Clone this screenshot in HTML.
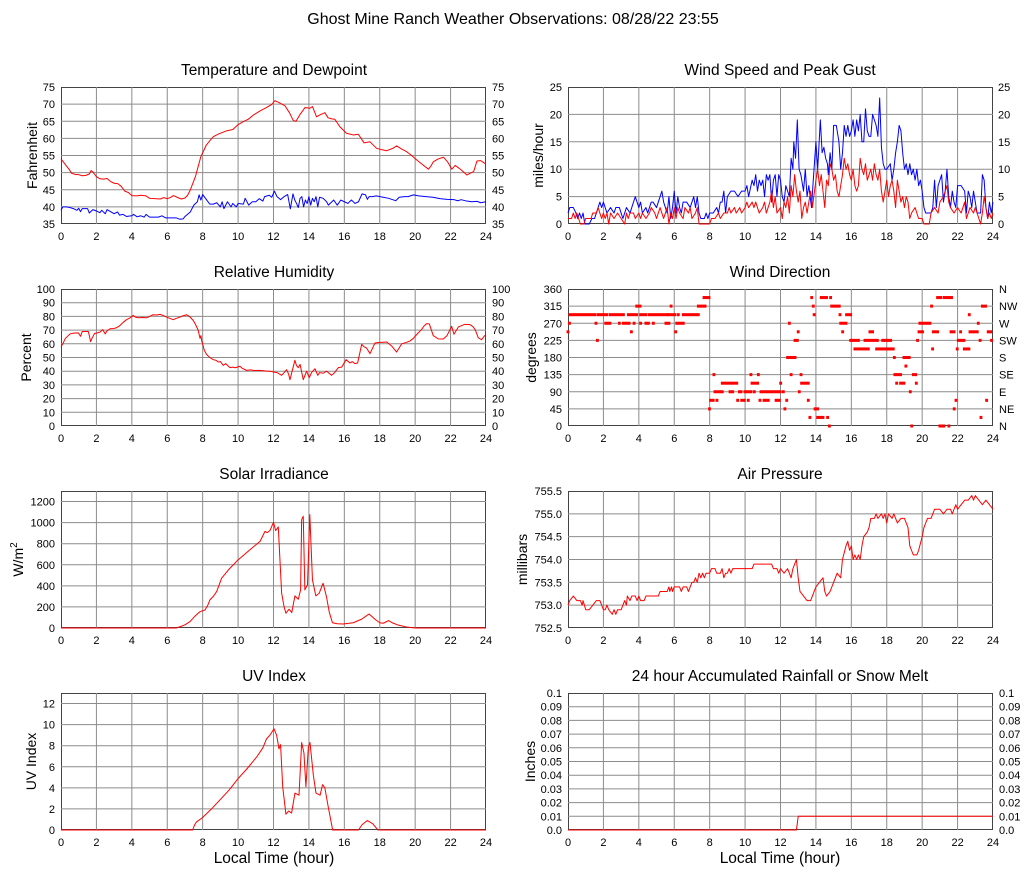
<!DOCTYPE html>
<html><head><meta charset="utf-8"><style>
html,body{margin:0;padding:0;background:#fff;}
svg{display:block;font-family:"Liberation Sans",Arial,sans-serif;}
.t{font-size:11px;fill:#000;}
.ttl{font-size:15.5px;fill:#000;text-anchor:middle;}
.al{font-size:14px;fill:#000;text-anchor:middle;}
.xl{font-size:15.5px;fill:#000;text-anchor:middle;}
.g{stroke:#8c8c8c;stroke-width:1;fill:none;}
.fr{stroke:#444;stroke-width:1;fill:none;}
.r{stroke:#ff0000;stroke-width:1;fill:none;stroke-linejoin:round;}
.b{stroke:#0000ff;stroke-width:1;fill:none;stroke-linejoin:round;}
.e{text-anchor:end;}
.m{text-anchor:middle;}
</style></head><body>
<svg width="1027" height="878" viewBox="0 0 1027 878" xmlns="http://www.w3.org/2000/svg">
<rect width="1027" height="878" fill="#fff"/>
<text x="513" y="24" style="font-size:16px;text-anchor:middle">Ghost Mine Ranch Weather Observations: 08/28/22 23:55</text>

<!-- titles -->
<text class="ttl" x="274" y="75">Temperature and Dewpoint</text>
<text class="ttl" x="780" y="75">Wind Speed and Peak Gust</text>
<text class="ttl" x="274" y="277">Relative Humidity</text>
<text class="ttl" x="780" y="277">Wind Direction</text>
<text class="ttl" x="274" y="479">Solar Irradiance</text>
<text class="ttl" x="780" y="479">Air Pressure</text>
<text class="ttl" x="274" y="681">UV Index</text>
<text class="ttl" x="780" y="681">24 hour Accumulated Rainfall or Snow Melt</text>

<!-- axis labels -->
<text class="al" transform="translate(37,155.5) rotate(-90)">Fahrenheit</text>
<text class="al" transform="translate(543,155.5) rotate(-90)">miles/hour</text>
<text class="al" transform="translate(31,357.5) rotate(-90)">Percent</text>
<text class="al" transform="translate(536,357.5) rotate(-90)">degrees</text>
<text class="al" transform="translate(23,559.5) rotate(-90)">W/m<tspan dy="-6" style="font-size:10px">2</tspan></text>
<text class="al" transform="translate(527,559.5) rotate(-90)">millibars</text>
<text class="al" transform="translate(36,761.5) rotate(-90)">UV Index</text>
<text class="al" transform="translate(535,761.5) rotate(-90)">Inches</text>
<text class="xl" x="274" y="863">Local Time (hour)</text>
<text class="xl" x="780" y="863">Local Time (hour)</text>

<!-- frames first -->
<rect class="fr" x="61.5" y="87.5" width="424" height="136"/>
<rect class="fr" x="568.5" y="87.5" width="424" height="136"/>
<rect class="fr" x="61.5" y="289.5" width="424" height="136"/>
<rect class="fr" x="568.5" y="289.5" width="424" height="136"/>
<rect class="fr" x="61.5" y="491.5" width="424" height="136"/>
<rect class="fr" x="568.5" y="491.5" width="424" height="136"/>
<rect class="fr" x="61.5" y="693.5" width="424" height="136"/>
<rect class="fr" x="568.5" y="693.5" width="424" height="136"/>

<!-- ================= P1 Temperature ================= -->
<svg x="61" y="87" width="425" height="137" viewBox="0 -75 24 40" preserveAspectRatio="none" overflow="visible">
<path class="g" vector-effect="non-scaling-stroke" d="M2 -75V-35M4 -75V-35M6 -75V-35M8 -75V-35M10 -75V-35M12 -75V-35M14 -75V-35M16 -75V-35M18 -75V-35M20 -75V-35M22 -75V-35M0 -70H24M0 -65H24M0 -60H24M0 -55H24M0 -50H24M0 -45H24M0 -40H24"/>
<polyline class="b" vector-effect="non-scaling-stroke" points="0,-39 0.1,-40 0.3,-40 0.5,-39.8 0.7,-39.5 0.9,-39 1,-39.6 1.1,-38.6 1.2,-39.5 1.5,-39.5 1.6,-38.2 1.8,-39.2 2,-38.8 2.2,-38.3 2.3,-39 2.5,-38 2.6,-39.2 2.8,-38.6 3,-38 3.2,-38.5 3.3,-37.6 3.5,-37.8 3.7,-37.2 4,-37.4 4.1,-37.8 4.3,-37.1 4.5,-37.4 4.7,-37 4.8,-37.8 5,-37 5.5,-37 5.7,-37.4 5.9,-36.8 6.2,-36.8 6.5,-36.8 6.7,-36.4 6.9,-36.5 7,-37.2 7.3,-38.5 7.5,-40.5 7.7,-41.5 7.8,-43.5 7.9,-42 8,-43.6 8.2,-42.2 8.4,-40.8 8.6,-40.8 8.8,-41.2 9,-40 9.1,-41.5 9.2,-39.5 9.4,-41.5 9.6,-40 9.7,-41 9.9,-40 10,-41 10.3,-40.8 10.4,-42.5 10.6,-40.5 10.8,-41.5 11,-41.5 11.2,-42.4 11.4,-41.7 11.5,-43 11.76,-43.4 11.9,-42.8 12.05,-44.6 12.2,-43 12.4,-42.1 12.6,-43 12.8,-43.6 12.95,-39.4 13.1,-43.8 13.2,-42 13.3,-41 13.4,-39.8 13.5,-42.5 13.6,-43 13.7,-40 13.8,-42 13.9,-41 14,-43 14.1,-40.5 14.2,-42.5 14.3,-41.5 14.4,-43 14.5,-40 14.6,-42.8 14.8,-42.5 15,-41.5 15.1,-40.5 15.3,-41.5 15.4,-42 15.6,-40.5 15.8,-42 16,-41.5 16.2,-41 16.4,-42 16.6,-41 16.8,-41.5 17,-43.8 17.2,-43.5 17.3,-42.2 17.4,-43 17.6,-43 17.8,-43.2 18.2,-42.8 18.5,-42.5 18.9,-41.8 19.1,-42.8 19.4,-43 19.6,-43 19.9,-43.5 20.2,-43.2 20.6,-43 21,-42.8 21.4,-42.4 21.8,-42.2 22.2,-42.1 22.4,-41.8 22.6,-42.1 22.9,-41.7 23.2,-41.5 23.5,-41.6 23.7,-41.2 24,-41.5"/>
<polyline class="r" vector-effect="non-scaling-stroke" points="0,-54 0.15,-53 0.3,-52 0.45,-51 0.6,-49.8 0.8,-49.5 1,-49.4 1.2,-49.1 1.4,-49.2 1.6,-49.6 1.7,-50.6 1.8,-50.2 2,-48.8 2.2,-48.2 2.4,-48.1 2.6,-48.3 2.8,-47.4 3,-46.9 3.2,-46.8 3.4,-46 3.6,-44.6 3.8,-44.2 4,-43.3 4.3,-43.2 4.5,-43.4 4.8,-43.2 5,-42.5 5.3,-42.4 5.6,-42.3 5.8,-42.7 6,-42.4 6.2,-42.8 6.35,-43.3 6.6,-42.7 6.8,-42.3 7,-42.6 7.15,-43.4 7.3,-44.9 7.6,-49 7.9,-54.7 8.2,-58 8.4,-59.3 8.6,-60.5 8.9,-61.3 9.35,-62.2 9.7,-62.6 10,-64 10.3,-64.9 10.58,-65.6 10.86,-66.8 11.24,-68 11.6,-69 11.9,-69.9 12.08,-71 12.3,-70.5 12.65,-69.5 12.9,-67.5 13.12,-65.2 13.27,-65 13.5,-67 13.78,-69 14.06,-68.8 14.2,-69.3 14.43,-66.3 14.6,-66.8 14.9,-67.5 15.08,-66 15.3,-65.7 15.46,-65.6 15.75,-63.4 16.12,-61.5 16.5,-61 16.79,-61.2 17.11,-58.7 17.45,-59 17.82,-57.1 18.1,-56.7 18.39,-56.4 18.7,-57 18.96,-57.8 19.2,-57 19.52,-56.1 19.8,-55 20.09,-53.7 20.4,-52.4 20.75,-51 20.9,-52 21.03,-53.2 21.3,-54 21.6,-54.5 21.85,-53 22.07,-51 22.26,-52.1 22.6,-50.8 22.92,-49.3 23.1,-49.8 23.3,-50.3 23.49,-53.4 23.7,-53.5 23.96,-52.6"/>
</svg>
<g class="t e">
<text x="55" y="91">75</text><text x="55" y="108.1">70</text><text x="55" y="125.3">65</text><text x="55" y="142.4">60</text><text x="55" y="159.5">55</text><text x="55" y="176.6">50</text><text x="55" y="193.8">45</text><text x="55" y="210.9">40</text><text x="55" y="228">35</text>
</g>
<g class="t">
<text x="492" y="91">75</text><text x="492" y="108.1">70</text><text x="492" y="125.3">65</text><text x="492" y="142.4">60</text><text x="492" y="159.5">55</text><text x="492" y="176.6">50</text><text x="492" y="193.8">45</text><text x="492" y="210.9">40</text><text x="492" y="228">35</text>
</g>
<g class="t m">
<text x="61" y="240">0</text><text x="96.4" y="240">2</text><text x="131.8" y="240">4</text><text x="167.25" y="240">6</text><text x="202.7" y="240">8</text><text x="238.1" y="240">10</text><text x="273.5" y="240">12</text><text x="308.9" y="240">14</text><text x="344.3" y="240">16</text><text x="379.75" y="240">18</text><text x="415.2" y="240">20</text><text x="450.6" y="240">22</text><text x="486" y="240">24</text>
</g>

<!-- ================= P2 Wind speed ================= -->
<svg x="568" y="87" width="425" height="137" viewBox="0 -25 24 25" preserveAspectRatio="none" overflow="visible">
<path class="g" vector-effect="non-scaling-stroke" d="M2 -25V0M4 -25V0M6 -25V0M8 -25V0M10 -25V0M12 -25V0M14 -25V0M16 -25V0M18 -25V0M20 -25V0M22 -25V0M0 -20H24M0 -15H24M0 -10H24M0 -5H24"/>
<polyline class="b" vector-effect="non-scaling-stroke" points="0,-2 0.1,-3 0.3,-3 0.45,-2 0.55,-1 0.65,-2 0.75,-1 0.85,-2 0.95,0 1.2,0 1.35,-1 1.5,-1 1.6,-2 1.8,-4 1.9,-3 2,-4 2.1,-3 2.2,-2 2.4,-3 2.6,-2 2.7,-3 2.9,-3 3,-2 3.1,-1 3.2,-2 3.3,-3 3.5,-2 3.6,-3 3.8,-5 3.9,-4 4,-3 4.1,-4 4.2,-2 4.4,-3 4.5,-2 4.7,-4 4.8,-4 5,-3 5.1,-4 5.3,-6 5.4,-4 5.5,-3 5.6,-2 5.7,-5 5.8,-1 5.9,-3 6,-6 6.1,-2 6.2,-5 6.3,-3 6.4,-2 6.5,-4 6.7,-4 6.9,-3 7,-4 7.1,-5 7.2,-3 7.3,-5 7.4,-2 7.5,-1 7.7,-1 7.8,-2 7.9,-1 8,-2 8.2,-2 8.4,-3 8.5,-2 8.6,-4 8.7,-4 8.8,-6 8.9,-2 9,-5 9.2,-6 9.4,-6 9.6,-5 9.8,-6 10,-6 10.1,-7 10.2,-5 10.4,-8 10.5,-7 10.6,-9 10.7,-6 10.8,-8 10.9,-7 11,-8 11.1,-5 11.2,-9 11.3,-8 11.4,-9 11.5,-4 11.6,-8 11.7,-9 11.8,-5 11.9,-9 12,-8 12.1,-5 12.2,-4 12.3,-7 12.5,-5 12.6,-12 12.7,-10 12.75,-15 12.85,-12 12.95,-19 13.05,-10 13.15,-9 13.3,-6 13.4,-10 13.5,-5 13.6,-7 13.75,-3 13.85,-8 14,-15 14.1,-10 14.25,-19 14.35,-13 14.45,-14 14.55,-12 14.65,-11 14.7,-9 14.8,-13 14.9,-10 15,-18 15.15,-18 15.3,-15 15.4,-10 15.5,-13 15.6,-18 15.7,-16 15.8,-18 15.9,-16 16,-17 16.1,-19 16.2,-16 16.3,-19 16.4,-17 16.5,-20 16.6,-15 16.7,-15 16.8,-21 16.9,-17 17,-16 17.1,-16 17.2,-20 17.3,-19 17.4,-18 17.5,-16 17.6,-23 17.7,-14 17.8,-11 17.9,-10 18,-10 18.2,-11 18.3,-8 18.4,-10 18.5,-13 18.6,-15 18.7,-18 18.8,-17 18.9,-13 19,-10 19.1,-11 19.2,-9 19.3,-11 19.4,-9 19.5,-10 19.6,-8 19.7,-10 19.8,-7 19.9,-8 20,-6 20.1,-3 20.2,-2 20.5,-2 20.6,-3 20.7,-8 20.8,-3 20.9,-7 21,-8 21.1,-9 21.2,-4 21.3,-6 21.4,-10 21.5,-5 21.6,-3 21.7,-6 21.8,-4 21.9,-3 22,-7 22.1,-7 22.2,-7 22.4,-6 22.5,-2 22.6,-6 22.7,-5 22.8,-3 22.9,-6 23,-4 23.1,-2 23.3,-2 23.4,-9 23.5,-8 23.6,-3 23.7,-1 23.8,-4 23.9,-2 24,-4"/>
<polyline class="r" vector-effect="non-scaling-stroke" points="0,-1 0.2,-1 0.3,-2 0.4,-1 0.5,-2 0.6,-1 0.7,0 0.9,0 1,-1 1.3,-1 1.4,-2 1.6,-2 1.7,-3 1.8,-2 1.9,-1 2,-2 2.1,-1 2.2,-2 2.3,0 2.4,-2 2.6,-1 2.8,-2 3,-1 3.2,0 3.3,-2 3.4,-1 3.5,-2 3.7,-2 3.8,-1 4,-2 4.1,-1 4.2,-2 4.4,-1 4.6,-2 4.7,-3 4.9,-2 5,-1 5.2,-3 5.3,-2 5.4,-1 5.6,-3 5.7,0 5.8,-2 5.9,-1 6,-3 6.1,-1 6.2,-3 6.3,-2 6.5,-1 6.6,-3 6.8,-2 6.9,-3 7,-1 7.2,-2 7.3,-3 7.4,0 7.6,0 8,0 8.1,-1 8.3,-1 8.5,-2 8.6,-1 8.8,-2 9,-2 9.1,-3 9.2,-2 9.4,-3 9.5,-2 9.7,-3 9.8,-2 10,-3 10.1,-4 10.2,-3 10.4,-4 10.5,-3 10.6,-4 10.8,-2 11,-3 11.1,-4 11.2,-2 11.4,-4 11.5,-6 11.6,-3 11.7,-5 11.8,-2 12,-3 12.1,-1 12.2,-4 12.3,-3 12.4,-5 12.5,-2 12.6,-7 12.7,-5 12.8,-9 12.9,-6 13,-4 13.1,-6 13.2,-1 13.3,-3 13.4,-4 13.5,-2 13.6,-4 13.7,-6 13.8,-3 14,-8 14.1,-10 14.2,-7 14.3,-9 14.4,-6 14.5,-3 14.6,-8 14.7,-7 14.8,-11 14.9,-10 15,-8 15.1,-9 15.2,-6 15.3,-5 15.4,-7 15.5,-9 15.6,-12 15.7,-10 15.8,-11 15.9,-9 16,-8 16.1,-10 16.2,-7 16.3,-6 16.4,-7 16.5,-12 16.6,-10 16.7,-9 16.8,-11 16.9,-8 17,-9 17.1,-10 17.2,-8 17.3,-11 17.4,-9 17.5,-8 17.6,-10 17.7,-6 17.8,-4 17.9,-6 18,-8 18.1,-5 18.2,-7 18.3,-8 18.4,-6 18.5,-3 18.6,-8 18.7,-6 18.8,-4 18.9,-5 19,-3 19.1,-5 19.2,-4 19.3,-1 19.4,-2 19.6,-3 19.8,-1 20,-1 20.1,0 20.4,0 20.5,-2 20.7,-3 20.9,-2 21,-4 21.2,-5 21.4,-7 21.5,-4 21.6,-3 21.8,-2 22,-3 22.2,-2 22.4,-4 22.5,-1 22.7,-3 22.9,-2 23,-3 23.2,-1 23.3,0 23.4,-2 23.5,-5 23.6,-3 23.7,-1 23.8,-2 23.9,-1 24,-2"/>
</svg>
<g class="t e">
<text x="562" y="91">25</text><text x="562" y="118.4">20</text><text x="562" y="145.8">15</text><text x="562" y="173.2">10</text><text x="562" y="200.6">5</text><text x="562" y="228">0</text>
</g>
<g class="t">
<text x="998" y="91">25</text><text x="998" y="118.4">20</text><text x="998" y="145.8">15</text><text x="998" y="173.2">10</text><text x="998" y="200.6">5</text><text x="998" y="228">0</text>
</g>
<g class="t m">
<text x="568" y="240">0</text><text x="603.4" y="240">2</text><text x="638.8" y="240">4</text><text x="674.25" y="240">6</text><text x="709.7" y="240">8</text><text x="745.1" y="240">10</text><text x="780.5" y="240">12</text><text x="815.9" y="240">14</text><text x="851.3" y="240">16</text><text x="886.75" y="240">18</text><text x="922.2" y="240">20</text><text x="957.6" y="240">22</text><text x="993" y="240">24</text>
</g>

<!-- ================= P3 Humidity ================= -->
<svg x="61" y="289" width="425" height="137" viewBox="0 -100 24 100" preserveAspectRatio="none" overflow="visible">
<path class="g" vector-effect="non-scaling-stroke" d="M2 -100V0M4 -100V0M6 -100V0M8 -100V0M10 -100V0M12 -100V0M14 -100V0M16 -100V0M18 -100V0M20 -100V0M22 -100V0M0 -90H24M0 -80H24M0 -70H24M0 -60H24M0 -50H24M0 -40H24M0 -30H24M0 -20H24M0 -10H24"/>
<polyline class="r" vector-effect="non-scaling-stroke" points="0,-57.9 0.1,-60 0.25,-64 0.51,-67.2 0.7,-67.8 0.98,-68 1.1,-65.5 1.2,-69 1.54,-69 1.6,-66 1.67,-61.6 1.75,-64 1.9,-67.6 2.05,-68 2.2,-68.5 2.35,-70.4 2.5,-67.2 2.6,-69.5 2.77,-71 3,-71.2 3.14,-71.8 3.3,-73 3.5,-75.5 3.7,-77.6 3.9,-79 4.08,-80.7 4.2,-79.5 4.37,-79 4.6,-79.2 4.84,-79 5,-80 5.2,-81.2 5.4,-81 5.59,-81.5 5.8,-80.5 5.96,-79.5 6.15,-78.5 6.34,-77.6 6.5,-78.5 6.72,-79.5 6.9,-80.5 7.1,-81.2 7.25,-80 7.47,-77 7.6,-74 7.75,-69.8 7.85,-64 7.9,-66 7.94,-62.5 8.1,-55 8.22,-52.3 8.4,-50 8.6,-48.4 8.75,-48 8.88,-46.7 9,-47 9.16,-44.3 9.3,-45.5 9.54,-42.6 9.7,-43 9.85,-42.5 10.1,-43.6 10.25,-42 10.48,-40.6 10.7,-41 10.9,-40.5 11.23,-40.6 11.5,-40.2 11.8,-40 11.99,-39.4 12.2,-39 12.46,-37 12.6,-39 12.74,-41.1 12.85,-38 12.93,-33.8 13.05,-40 13.21,-48 13.3,-44 13.4,-42.6 13.5,-45 13.68,-33.8 13.87,-40 14.02,-35.3 14.15,-39 14.34,-41.8 14.5,-37 14.6,-39 14.81,-38.5 15,-40 15.28,-37 15.45,-39 15.66,-42.6 15.85,-43 16.1,-48.4 16.32,-46 16.45,-47 16.6,-45.5 16.75,-46 16.98,-59.6 17.1,-58 17.25,-57 17.45,-52.8 17.6,-57 17.73,-60.6 18,-61 18.4,-61.3 18.7,-58 18.95,-54 19.1,-57 19.24,-60 19.5,-61 19.7,-62 19.9,-64 20.08,-66.7 20.36,-70.4 20.5,-73 20.65,-74.7 20.8,-74.5 21.02,-66 21.3,-63.6 21.59,-63.5 21.8,-66 22.06,-72.8 22.19,-67 22.44,-72.3 22.8,-74.2 23.1,-74 23.28,-72.3 23.4,-70 23.56,-64.5 23.75,-63 23.94,-66.2"/>
</svg>
<g class="t e">
<text x="55" y="293">100</text><text x="55" y="306.7">90</text><text x="55" y="320.4">80</text><text x="55" y="334.1">70</text><text x="55" y="347.8">60</text><text x="55" y="361.5">50</text><text x="55" y="375.2">40</text><text x="55" y="388.9">30</text><text x="55" y="402.6">20</text><text x="55" y="416.3">10</text><text x="55" y="430">0</text>
</g>
<g class="t">
<text x="492" y="293">100</text><text x="492" y="306.7">90</text><text x="492" y="320.4">80</text><text x="492" y="334.1">70</text><text x="492" y="347.8">60</text><text x="492" y="361.5">50</text><text x="492" y="375.2">40</text><text x="492" y="388.9">30</text><text x="492" y="402.6">20</text><text x="492" y="416.3">10</text><text x="492" y="430">0</text>
</g>
<g class="t m">
<text x="61" y="442">0</text><text x="96.4" y="442">2</text><text x="131.8" y="442">4</text><text x="167.25" y="442">6</text><text x="202.7" y="442">8</text><text x="238.1" y="442">10</text><text x="273.5" y="442">12</text><text x="308.9" y="442">14</text><text x="344.3" y="442">16</text><text x="379.75" y="442">18</text><text x="415.2" y="442">20</text><text x="450.6" y="442">22</text><text x="486" y="442">24</text>
</g>

<!-- ================= P4 Wind direction ================= -->
<svg x="568" y="289" width="425" height="137" viewBox="0 -360 24 360" preserveAspectRatio="none" overflow="visible">
<path class="g" vector-effect="non-scaling-stroke" d="M2 -360V0M4 -360V0M6 -360V0M8 -360V0M10 -360V0M12 -360V0M14 -360V0M16 -360V0M18 -360V0M20 -360V0M22 -360V0M0 -315H24M0 -270H24M0 -225H24M0 -180H24M0 -135H24M0 -90H24M0 -45H24"/>
<g fill="#ff0000">
<rect x="-0.08" y="-251.5" width="0.16" height="8"/><rect x="0" y="-274" width="0.16" height="8"/><rect x="0.03" y="-296.5" width="1.58" height="8"/><rect x="1.5" y="-274" width="0.16" height="8"/><rect x="1.58" y="-229" width="0.16" height="8"/><rect x="1.63" y="-296.5" width="0.63" height="8"/><rect x="2.05" y="-274" width="0.4" height="8"/><rect x="2.29" y="-296.5" width="0.92" height="8"/><rect x="2.82" y="-274" width="0.16" height="8"/><rect x="3.05" y="-274" width="0.48" height="8"/><rect x="3.33" y="-296.5" width="0.63" height="8"/><rect x="3.5" y="-251.5" width="0.16" height="8"/><rect x="3.65" y="-274" width="0.16" height="8"/><rect x="3.8" y="-319" width="0.35" height="8"/><rect x="4.02" y="-274" width="0.16" height="8"/><rect x="4.02" y="-296.5" width="0.46" height="8"/><rect x="4.32" y="-274" width="0.3" height="8"/><rect x="4.51" y="-296.5" width="1.14" height="8"/><rect x="4.74" y="-274" width="0.16" height="8"/><rect x="5.45" y="-274" width="0.33" height="8"/><rect x="5.74" y="-319" width="0.16" height="8"/><rect x="5.59" y="-296.5" width="0.53" height="8"/><rect x="6" y="-251.5" width="0.16" height="8"/><rect x="6.06" y="-274" width="0.53" height="8"/><rect x="6.15" y="-296.5" width="0.16" height="8"/><rect x="6.43" y="-296.5" width="1.01" height="8"/><rect x="7.28" y="-319" width="0.54" height="8"/><rect x="7.6" y="-341.5" width="0.44" height="8"/>
<rect x="7.91" y="-49" width="0.16" height="8"/><rect x="7.97" y="-71.5" width="0.31" height="8"/><rect x="8.16" y="-139" width="0.16" height="8"/><rect x="8.22" y="-94" width="0.57" height="8"/><rect x="8.33" y="-71.5" width="0.16" height="8"/><rect x="8.63" y="-116.5" width="0.6" height="8"/><rect x="9.07" y="-94" width="0.31" height="8"/><rect x="9.22" y="-116.5" width="0.39" height="8"/><rect x="9.5" y="-71.5" width="0.16" height="8"/><rect x="9.6" y="-94" width="0.25" height="8"/><rect x="9.73" y="-71.5" width="0.31" height="8"/><rect x="9.91" y="-94" width="0.5" height="8"/><rect x="10.1" y="-71.5" width="0.16" height="8"/><rect x="10.25" y="-139" width="0.16" height="8"/><rect x="10.31" y="-116.5" width="0.48" height="8"/><rect x="10.44" y="-94" width="0.16" height="8"/><rect x="10.67" y="-139" width="0.16" height="8"/><rect x="10.76" y="-71.5" width="0.16" height="8"/><rect x="10.82" y="-94" width="1.23" height="8"/><rect x="10.99" y="-71.5" width="0.4" height="8"/><rect x="11.67" y="-71.5" width="0.34" height="8"/><rect x="11.93" y="-116.5" width="0.16" height="8"/><rect x="12.08" y="-94" width="0.16" height="8"/><rect x="12.17" y="-49" width="0.16" height="8"/><rect x="12.27" y="-71.5" width="0.16" height="8"/><rect x="12.32" y="-184" width="0.26" height="8"/><rect x="12.42" y="-274" width="0.16" height="8"/><rect x="12.52" y="-139" width="0.16" height="8"/><rect x="12.55" y="-184" width="0.35" height="8"/><rect x="12.74" y="-229" width="0.29" height="8"/><rect x="12.92" y="-251.5" width="0.16" height="8"/><rect x="12.98" y="-94" width="0.16" height="8"/><rect x="13.08" y="-139" width="0.16" height="8"/><rect x="13.11" y="-116.5" width="0.54" height="8"/><rect x="13.49" y="-71.5" width="0.16" height="8"/><rect x="13.58" y="-26.5" width="0.16" height="8"/><rect x="13.68" y="-341.5" width="0.16" height="8"/><rect x="13.77" y="-319" width="0.16" height="8"/><rect x="13.82" y="-296.5" width="0.16" height="8"/><rect x="13.87" y="-49" width="0.31" height="8"/><rect x="14.02" y="-26.5" width="0.46" height="8"/><rect x="14.58" y="-26.5" width="0.16" height="8"/><rect x="14.22" y="-341.5" width="0.46" height="8"/><rect x="14.75" y="-341.5" width="0.16" height="8"/><rect x="14.68" y="-4" width="0.16" height="8"/>
<rect x="14.81" y="-319" width="0.59" height="8"/><rect x="15.28" y="-296.5" width="0.16" height="8"/><rect x="15.32" y="-274" width="0.46" height="8"/><rect x="15.43" y="-251.5" width="0.16" height="8"/><rect x="15.65" y="-296.5" width="0.39" height="8"/><rect x="15.88" y="-229" width="0.6" height="8"/><rect x="16.12" y="-206.5" width="0.92" height="8"/><rect x="16.69" y="-229" width="0.44" height="8"/><rect x="16.97" y="-251.5" width="0.31" height="8"/><rect x="17.12" y="-229" width="0.43" height="8"/><rect x="17.35" y="-206.5" width="1.1" height="8"/><rect x="17.69" y="-229" width="0.61" height="8"/><rect x="18.35" y="-184" width="0.16" height="8"/><rect x="18.38" y="-139" width="0.48" height="8"/><rect x="18.48" y="-116.5" width="0.16" height="8"/><rect x="18.7" y="-116.5" width="0.35" height="8"/><rect x="18.89" y="-184" width="0.46" height="8"/><rect x="19" y="-161.5" width="0.16" height="8"/><rect x="19.25" y="-94" width="0.16" height="8"/><rect x="19.33" y="-4" width="0.16" height="8"/><rect x="19.42" y="-139" width="0.29" height="8"/><rect x="19.59" y="-116.5" width="0.16" height="8"/><rect x="19.66" y="-229" width="0.16" height="8"/><rect x="19.74" y="-251.5" width="0.36" height="8"/><rect x="19.79" y="-274" width="0.73" height="8"/><rect x="20.45" y="-319" width="0.16" height="8"/><rect x="20.51" y="-206.5" width="0.16" height="8"/><rect x="20.55" y="-251.5" width="0.4" height="8"/><rect x="20.79" y="-341.5" width="0.33" height="8"/><rect x="20.92" y="-4" width="0.39" height="8"/><rect x="21.15" y="-341.5" width="0.59" height="8"/><rect x="21.43" y="-4" width="0.16" height="8"/><rect x="21.55" y="-251.5" width="0.33" height="8"/><rect x="21.73" y="-49" width="0.16" height="8"/><rect x="21.83" y="-71.5" width="0.16" height="8"/><rect x="21.9" y="-206.5" width="0.16" height="8"/><rect x="21.96" y="-229" width="0.48" height="8"/><rect x="22.09" y="-251.5" width="0.16" height="8"/><rect x="22.3" y="-206.5" width="0.42" height="8"/><rect x="22.58" y="-296.5" width="0.16" height="8"/><rect x="22.62" y="-251.5" width="0.57" height="8"/><rect x="23.09" y="-274" width="0.16" height="8"/><rect x="23.19" y="-229" width="0.16" height="8"/><rect x="23.24" y="-26.5" width="0.16" height="8"/><rect x="23.32" y="-319" width="0.34" height="8"/><rect x="23.56" y="-71.5" width="0.16" height="8"/><rect x="23.65" y="-251.5" width="0.3" height="8"/><rect x="23.84" y="-229" width="0.16" height="8"/>
</g>
</svg>
<g class="t e">
<text x="562" y="293">360</text><text x="562" y="310.1">315</text><text x="562" y="327.3">270</text><text x="562" y="344.4">225</text><text x="562" y="361.5">180</text><text x="562" y="378.6">135</text><text x="562" y="395.8">90</text><text x="562" y="412.9">45</text><text x="562" y="430">0</text>
</g>
<g class="t">
<text x="999" y="293">N</text><text x="999" y="310.1">NW</text><text x="999" y="327.3">W</text><text x="999" y="344.4">SW</text><text x="999" y="361.5">S</text><text x="999" y="378.6">SE</text><text x="999" y="395.8">E</text><text x="999" y="412.9">NE</text><text x="999" y="430">N</text>
</g>
<g class="t m">
<text x="568" y="442">0</text><text x="603.4" y="442">2</text><text x="638.8" y="442">4</text><text x="674.25" y="442">6</text><text x="709.7" y="442">8</text><text x="745.1" y="442">10</text><text x="780.5" y="442">12</text><text x="815.9" y="442">14</text><text x="851.3" y="442">16</text><text x="886.75" y="442">18</text><text x="922.2" y="442">20</text><text x="957.6" y="442">22</text><text x="993" y="442">24</text>
</g>

<!-- ================= P5 Solar ================= -->
<svg x="61" y="491" width="425" height="137" viewBox="0 -1300 24 1300" preserveAspectRatio="none" overflow="visible">
<path class="g" vector-effect="non-scaling-stroke" d="M2 -1300V0M4 -1300V0M6 -1300V0M8 -1300V0M10 -1300V0M12 -1300V0M14 -1300V0M16 -1300V0M18 -1300V0M20 -1300V0M22 -1300V0M0 -1200H24M0 -1000H24M0 -800H24M0 -600H24M0 -400H24M0 -200H24"/>
<polyline class="r" vector-effect="non-scaling-stroke" points="0,0 6.5,0 6.72,-12 7,-30 7.28,-60 7.55,-110 7.85,-155 8.13,-171 8.3,-220 8.41,-267 8.6,-300 8.79,-346 9.07,-473 9.5,-560 10.01,-648 10.67,-743 11.24,-822 11.52,-917 11.65,-905 11.8,-925 12,-1003 12.12,-924 12.27,-959 12.46,-330 12.6,-200 12.7,-140 12.88,-178 13.03,-146 13.21,-305 13.4,-273 13.53,-362 13.59,-1029 13.68,-1060 13.77,-362 13.92,-410 14.05,-1076 14.2,-457 14.39,-305 14.58,-330 14.8,-425 14.99,-298 15.15,-150 15.33,-50 15.6,-40 15.93,-38 16.5,-50 16.97,-83 17.2,-110 17.39,-133 17.55,-110 17.73,-83 18,-50 18.2,-45 18.5,-70 18.7,-50 19,-30 19.5,-10 20,0 24,0"/>
</svg>
<g class="t e">
<text x="55" y="505.5">1200</text><text x="55" y="526.6">1000</text><text x="55" y="547.7">800</text><text x="55" y="568.8">600</text><text x="55" y="589.8">400</text><text x="55" y="610.9">200</text><text x="55" y="632">0</text>
</g>
<g class="t m">
<text x="61" y="644">0</text><text x="96.4" y="644">2</text><text x="131.8" y="644">4</text><text x="167.25" y="644">6</text><text x="202.7" y="644">8</text><text x="238.1" y="644">10</text><text x="273.5" y="644">12</text><text x="308.9" y="644">14</text><text x="344.3" y="644">16</text><text x="379.75" y="644">18</text><text x="415.2" y="644">20</text><text x="450.6" y="644">22</text><text x="486" y="644">24</text>
</g>

<!-- ================= P6 Pressure ================= -->
<svg x="568" y="491" width="425" height="137" viewBox="0 -755.5 24 3" preserveAspectRatio="none" overflow="visible">
<path class="g" vector-effect="non-scaling-stroke" d="M2 -755.5V-752.5M4 -755.5V-752.5M6 -755.5V-752.5M8 -755.5V-752.5M10 -755.5V-752.5M12 -755.5V-752.5M14 -755.5V-752.5M16 -755.5V-752.5M18 -755.5V-752.5M20 -755.5V-752.5M22 -755.5V-752.5M0 -755H24M0 -754.5H24M0 -754H24M0 -753.5H24M0 -753H24"/>
<polyline class="r" vector-effect="non-scaling-stroke" points="0,-753 0.1,-753.1 0.3,-753.2 0.5,-753.1 0.7,-753.1 0.8,-753 0.85,-753.1 1,-752.9 1.2,-752.9 1.4,-753 1.6,-753.1 1.8,-753.1 2,-752.9 2.1,-752.9 2.2,-753 2.3,-752.9 2.5,-752.8 2.6,-752.9 2.7,-752.8 2.8,-752.9 3,-752.9 3.1,-753 3.2,-753.1 3.3,-753 3.35,-753.2 3.5,-753.1 3.6,-753.2 3.8,-753.2 3.9,-753.1 4,-753.2 4.1,-753.1 4.3,-753.1 4.4,-753.2 5.1,-753.2 5.2,-753.3 5.6,-753.3 5.7,-753.4 5.75,-753.3 5.85,-753.4 5.9,-753.3 6,-753.4 6.3,-753.4 6.4,-753.3 6.5,-753.4 6.7,-753.4 6.8,-753.3 6.9,-753.4 7,-753.5 7.1,-753.5 7.2,-753.6 7.3,-753.5 7.4,-753.7 7.5,-753.6 7.6,-753.7 7.7,-753.6 7.8,-753.7 8,-753.7 8.1,-753.8 8.3,-753.8 8.4,-753.7 8.6,-753.7 8.7,-753.8 8.8,-753.6 8.9,-753.7 9,-753.7 9.1,-753.8 9.2,-753.7 9.3,-753.8 10,-753.8 10.4,-753.8 10.5,-753.9 11.5,-753.9 11.6,-753.8 11.8,-753.8 11.9,-753.7 12,-753.8 12.2,-753.7 12.4,-753.8 12.5,-753.7 12.6,-753.6 12.7,-753.8 12.9,-754 13,-753.6 13.1,-753.3 13.3,-753.2 13.5,-753.1 13.7,-753.1 13.8,-753.2 13.9,-753.3 14,-753.4 14.2,-753.5 14.4,-753.6 14.5,-753.3 14.6,-753.2 14.8,-753.3 15,-753.5 15.2,-753.7 15.4,-753.6 15.5,-754 15.7,-754.3 15.8,-754.4 15.9,-754.2 16,-754.3 16.1,-754 16.2,-754.1 16.3,-754 16.4,-754.1 16.5,-754 16.6,-754.3 16.7,-754.5 16.9,-754.6 17,-754.7 17.1,-754.9 17.3,-754.9 17.4,-755 17.5,-754.9 17.7,-755 17.8,-754.9 17.9,-755 18,-754.8 18.1,-755 18.3,-754.9 18.4,-755 18.6,-754.8 18.8,-754.9 19,-754.9 19.2,-754.7 19.3,-754.3 19.4,-754.2 19.5,-754.1 19.7,-754.1 19.8,-754.2 20,-754.5 20.1,-754.7 20.3,-754.9 20.5,-754.9 20.7,-755.1 21,-755.1 21.2,-755 21.4,-755.1 21.6,-755.1 21.7,-755 21.9,-755.2 22,-755.1 22.2,-755.2 22.4,-755.3 22.6,-755.3 22.8,-755.4 22.9,-755.3 23,-755.4 23.2,-755.3 23.4,-755.2 23.6,-755.3 23.8,-755.2 24,-755.1"/>
</svg>
<g class="t e">
<text x="562" y="495">755.5</text><text x="562" y="517.8">755.0</text><text x="562" y="540.7">754.5</text><text x="562" y="563.5">754.0</text><text x="562" y="586.3">753.5</text><text x="562" y="609.2">753.0</text><text x="562" y="632">752.5</text>
</g>
<g class="t m">
<text x="568" y="644">0</text><text x="603.4" y="644">2</text><text x="638.8" y="644">4</text><text x="674.25" y="644">6</text><text x="709.7" y="644">8</text><text x="745.1" y="644">10</text><text x="780.5" y="644">12</text><text x="815.9" y="644">14</text><text x="851.3" y="644">16</text><text x="886.75" y="644">18</text><text x="922.2" y="644">20</text><text x="957.6" y="644">22</text><text x="993" y="644">24</text>
</g>

<!-- ================= P7 UV ================= -->
<svg x="61" y="693" width="425" height="137" viewBox="0 -13 24 13" preserveAspectRatio="none" overflow="visible">
<path class="g" vector-effect="non-scaling-stroke" d="M2 -13V0M4 -13V0M6 -13V0M8 -13V0M10 -13V0M12 -13V0M14 -13V0M16 -13V0M18 -13V0M20 -13V0M22 -13V0M0 -12H24M0 -10H24M0 -8H24M0 -6H24M0 -4H24M0 -2H24"/>
<polyline class="r" vector-effect="non-scaling-stroke" points="0,0 7.43,0 7.55,-0.5 7.66,-0.78 7.85,-1 8.04,-1.26 8.5,-2 9,-2.9 9.5,-3.8 10.01,-4.9 10.5,-5.8 11.05,-6.93 11.4,-7.8 11.61,-8.66 11.8,-9 12.03,-9.6 12.18,-8.97 12.31,-7.7 12.4,-8.1 12.52,-4.1 12.7,-1.5 12.85,-1.8 13.02,-1.6 13.21,-3.5 13.44,-3.3 13.59,-8.3 13.72,-7.3 13.83,-4.1 13.97,-7.9 14.06,-8.3 14.25,-5.2 14.4,-3.5 14.63,-3.3 14.77,-4.3 14.9,-4 15.09,-2.2 15.34,0 16.8,0 17,-0.5 17.3,-0.9 17.6,-0.6 17.9,0 24,0"/>
</svg>
<g class="t e">
<text x="55" y="707.5">12</text><text x="55" y="728.6">10</text><text x="55" y="749.7">8</text><text x="55" y="770.8">6</text><text x="55" y="791.8">4</text><text x="55" y="812.9">2</text><text x="55" y="834">0</text>
</g>
<g class="t m">
<text x="61" y="846">0</text><text x="96.4" y="846">2</text><text x="131.8" y="846">4</text><text x="167.25" y="846">6</text><text x="202.7" y="846">8</text><text x="238.1" y="846">10</text><text x="273.5" y="846">12</text><text x="308.9" y="846">14</text><text x="344.3" y="846">16</text><text x="379.75" y="846">18</text><text x="415.2" y="846">20</text><text x="450.6" y="846">22</text><text x="486" y="846">24</text>
</g>

<!-- ================= P8 Rain ================= -->
<svg x="568" y="693" width="425" height="137" viewBox="0 -0.1 24 0.1" preserveAspectRatio="none" overflow="visible">
<path class="g" vector-effect="non-scaling-stroke" d="M2 -0.1V0M4 -0.1V0M6 -0.1V0M8 -0.1V0M10 -0.1V0M12 -0.1V0M14 -0.1V0M16 -0.1V0M18 -0.1V0M20 -0.1V0M22 -0.1V0M0 -0.09H24M0 -0.08H24M0 -0.07H24M0 -0.06H24M0 -0.05H24M0 -0.04H24M0 -0.03H24M0 -0.02H24M0 -0.01H24"/>
<polyline class="r" vector-effect="non-scaling-stroke" points="0,0 12.9,0 13.0,-0.01 24,-0.01"/>
</svg>
<g class="t e">
<text x="562" y="697">0.1</text><text x="562" y="710.7">0.09</text><text x="562" y="724.4">0.08</text><text x="562" y="738.1">0.07</text><text x="562" y="751.8">0.06</text><text x="562" y="765.5">0.05</text><text x="562" y="779.2">0.04</text><text x="562" y="792.9">0.03</text><text x="562" y="806.6">0.02</text><text x="562" y="820.3">0.01</text><text x="562" y="834">0.0</text>
</g>
<g class="t">
<text x="999" y="697">0.1</text><text x="999" y="710.7">0.09</text><text x="999" y="724.4">0.08</text><text x="999" y="738.1">0.07</text><text x="999" y="751.8">0.06</text><text x="999" y="765.5">0.05</text><text x="999" y="779.2">0.04</text><text x="999" y="792.9">0.03</text><text x="999" y="806.6">0.02</text><text x="999" y="820.3">0.01</text><text x="999" y="834">0.0</text>
</g>
<g class="t m">
<text x="568" y="846">0</text><text x="603.4" y="846">2</text><text x="638.8" y="846">4</text><text x="674.25" y="846">6</text><text x="709.7" y="846">8</text><text x="745.1" y="846">10</text><text x="780.5" y="846">12</text><text x="815.9" y="846">14</text><text x="851.3" y="846">16</text><text x="886.75" y="846">18</text><text x="922.2" y="846">20</text><text x="957.6" y="846">22</text><text x="993" y="846">24</text>
</g>
</svg>
</body></html>
